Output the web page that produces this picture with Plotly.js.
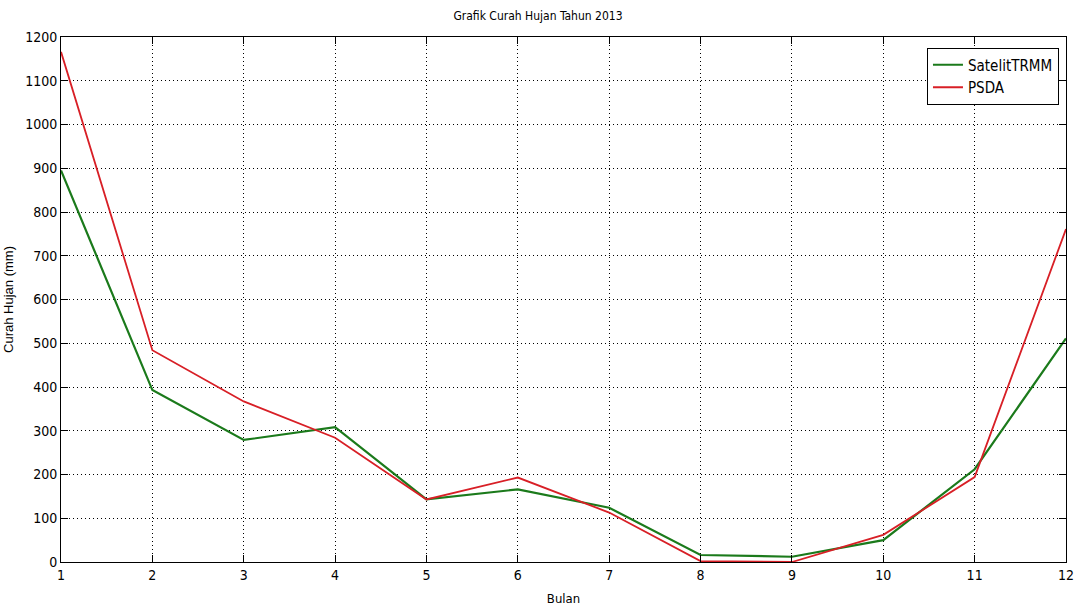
<!DOCTYPE html>
<html><head><meta charset="utf-8">
<script src="https://cdn.plot.ly/plotly-3.0.1.min.js"></script>
<style>html,body{margin:0;padding:0;background:#fff}#c{width:1076px;height:612px}</style>
</head><body><div id="c"></div>
<script>
const bulan = [1,2,3,4,5,6,7,8,9,10,11,12];
const satelitTRMM = [895,393,279,308,143,166,124,16,12,50,212,511];
const psda = [1166,484,367,284,143,193,113,2,0,62,194,761];
const FONT = '"DejaVu Sans Condensed", "Liberation Sans Narrow", "Liberation Sans", sans-serif';

const traces = [
  {x: bulan, y: satelitTRMM, mode:'lines', name:'SatelitTRMM', line:{color:'#1b7a1b', width:2.2}},
  {x: bulan, y: psda, mode:'lines', name:'PSDA', line:{color:'#d81f26', width:1.8}}
];
const axisCommon = {
  showline:true, linecolor:'#000', linewidth:1, mirror:'ticks',
  ticks:'inside', ticklen:7, tickcolor:'#000',
  showgrid:true, gridcolor:'#000', griddash:'1px,3px', gridwidth:1,
  zeroline:false, tickfont:{family:FONT, size:14, color:'#000'},
  ticklabeloverflow:'allow'
};
const layout = {
  width:1076, height:612,
  margin:{l:61, r:10, t:37, b:50},
  paper_bgcolor:'#fff', plot_bgcolor:'#fff',
  font:{family:FONT, color:'#000'},
  title:{text:'Grafik Curah Hujan Tahun 2013', font:{family:FONT, size:12, color:'#000'}, x:0.5, xanchor:'center', y:0.975, yanchor:'middle'},
  xaxis: Object.assign({}, axisCommon, {range:[1,12], tickvals:bulan, title:{text:'Bulan', font:{family:FONT, size:13}, standoff:12}}),
  yaxis: Object.assign({}, axisCommon, {range:[0,1200], dtick:100, title:{text:'Curah Hujan (mm)', font:{family:'"Liberation Sans", Arial, sans-serif', size:13}, standoff:8}}),
  showlegend:true,
  legend:{x:0.993, y:0.98, xanchor:'right', yanchor:'top', bordercolor:'#000', borderwidth:1, bgcolor:'#fff', font:{family:FONT, size:15, color:'#000'}, tracegroupgap:0}
};
Plotly.newPlot('c', traces, layout, {displayModeBar:false, staticPlot:true});
</script></body></html>
